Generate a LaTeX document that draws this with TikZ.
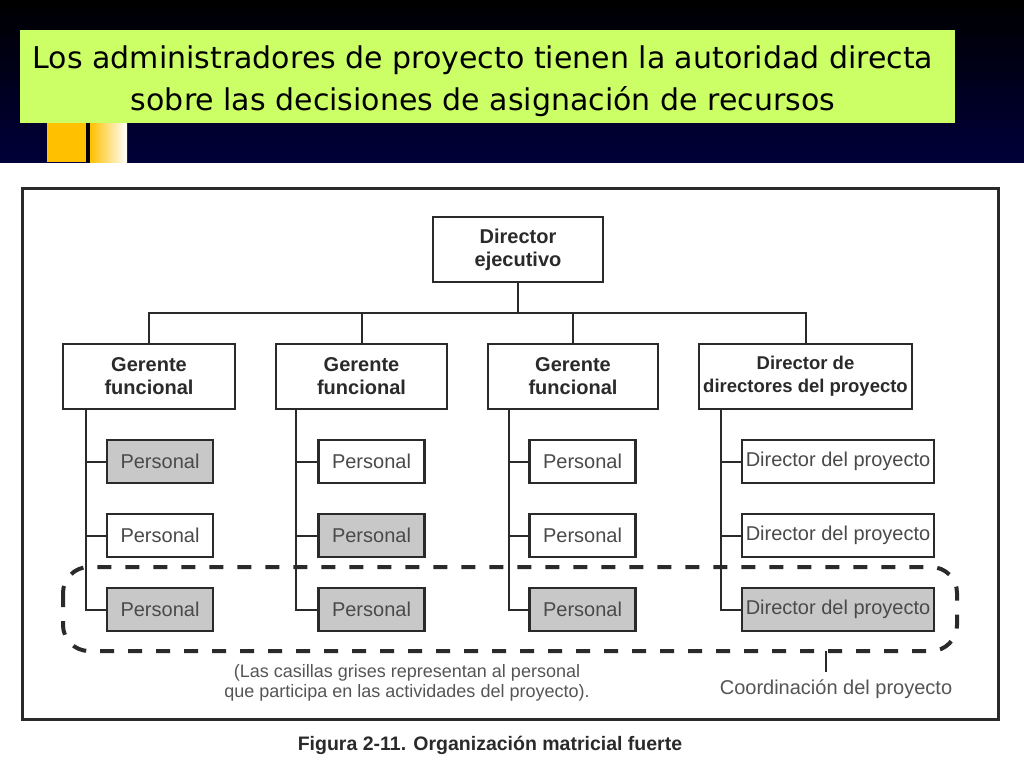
\documentclass[tikz,border=0pt]{standalone}
\usepackage{fontspec}
\setmainfont{Liberation Sans}
\newfontfamily\titlefont{DejaVu Sans}
\definecolor{navy}{HTML}{00003A}
\definecolor{lime}{HTML}{CCFF66}
\definecolor{amber}{HTML}{FFC000}
\definecolor{boxgray}{HTML}{C8C8C8}
\definecolor{ink}{HTML}{2A2A2A}
\begin{document}
\begin{tikzpicture}[x=1pt,y=-1pt,
		chief/.style={draw=ink,line width=2.5pt,fill=white,align=center,inner sep=0pt,minimum height=65pt,text=ink,font=\fontsize{20}{23}\selectfont\bfseries},
		staff/.style={draw=ink,line width=2.2pt,fill=white,inner sep=0pt,minimum width=106pt,minimum height=43pt,text=ink!85,font=\fontsize{20}{23}\selectfont},
		busy/.style={fill=boxgray},
		link/.style={draw=ink,line width=2pt}]
		\useasboundingbox (0,0) rectangle (1024,768);
		\fill[white] (0,0) rectangle (1024,768);
		% slide header
		\shade[top color=black,bottom color=navy] (0,0) rectangle (1024,162);
		\fill[amber] (47,123) rectangle (86,162);
		\fill[black] (86,123) rectangle (90,162);
		\shade[left color=amber,right color=white] (90,123) rectangle (127,162);
		\node[fill=lime,minimum width=935pt,minimum height=93pt,inner sep=0pt] (title) at (487.5,76.5) {};
		\node[align=center,inner sep=0pt,font=\titlefont\fontsize{30}{42}\selectfont] (titletext) at (483,81) {Los administradores de proyecto tienen la autoridad directa\\sobre las decisiones de asignación de recursos};
		% figure
		\draw[ink,line width=3pt] (22,188) rectangle (998,719);
		\node[chief,minimum width=170pt] (exec) at (518,249.5) {Director\\ejecutivo};
		\node[chief,minimum width=172pt] (g1) at (149,376.5) {Gerente\\funcional};
		\node[chief,minimum width=171pt] (g2) at (361.5,376.5) {Gerente\\funcional};
		\node[chief,minimum width=170pt] (g3) at (573,376.5) {Gerente\\funcional};
		\node[chief,minimum width=213pt,font=\fontsize{18.5}{23}\selectfont\bfseries] (g4) at (805.5,376.5) {Director de\\directores del proyecto};
		\node[staff,busy] (p11) at (160,461.5) {Personal};
		\node[staff] (p12) at (160,535.5) {Personal};
		\node[staff,busy] (p13) at (160,609.5) {Personal};
		\node[staff] (p21) at (371.5,461.5) {Personal};
		\node[staff,busy] (p22) at (371.5,535.5) {Personal};
		\node[staff,busy] (p23) at (371.5,609.5) {Personal};
		\node[staff] (p31) at (582.5,461.5) {Personal};
		\node[staff] (p32) at (582.5,535.5) {Personal};
		\node[staff,busy] (p33) at (582.5,609.5) {Personal};
		\node[staff,minimum width=192pt] (d1) at (838,461.5) {Director del proyecto};
		\node[staff,minimum width=192pt] (d2) at (838,535.5) {Director del proyecto};
		\node[staff,busy,minimum width=192pt] (d3) at (838,609.5) {Director del proyecto};
		% lines
		\coordinate (bus) at (518,313);
		\draw[link] (exec.south) -- (bus);
		\draw[link] (g1.north) -- (g1.north |- bus) -| (g4.north);
		\draw[link] (g2.north) -- (g2.north |- bus);
		\draw[link] (g3.north) -- (g3.north |- bus);
		\coordinate (s1) at ([xshift=24pt]g1.south west);
		\coordinate (s2) at ([xshift=21pt]g2.south west);
		\coordinate (s3) at ([xshift=22pt]g3.south west);
		\coordinate (s4) at ([xshift=23pt]g4.south west);
		\draw[link] (s1) |- (p13.west);
		\draw[link] (p11.west) -- (p11.west -| s1);
		\draw[link] (p12.west) -- (p12.west -| s1);
		\draw[link] (s2) |- (p23.west);
		\draw[link] (p21.west) -- (p21.west -| s2);
		\draw[link] (p22.west) -- (p22.west -| s2);
		\draw[link] (s3) |- (p33.west);
		\draw[link] (p31.west) -- (p31.west -| s3);
		\draw[link] (p32.west) -- (p32.west -| s3);
		\draw[link] (s4) |- (d3.west);
		\draw[link] (d1.west) -- (d1.west -| s4);
		\draw[link] (d2.west) -- (d2.west -| s4);
		% project coordination
		\draw[ink,line width=4pt,dash pattern=on 14pt off 14pt,rounded corners=26pt] (63,567) rectangle (957,651);
		\node[text=ink!80,align=center,font=\fontsize{18}{20}\selectfont] (note) at (407,683) {(Las casillas grises representan al personal\\que participa en las actividades del proyecto).};
		\node[text=ink!80,font=\fontsize{20}{23}\selectfont] (coord) at (836,689) {Coordinación del proyecto};
		\coordinate (tick) at (826,651);
		\coordinate (tickend) at (826,672);
		\draw[link] (tick) -- (tickend);
		\node[text=ink,font=\fontsize{19.5}{23}\selectfont\bfseries] (caption) at (490,745) {Figura 2-11. Organización matricial fuerte};
\end{tikzpicture}
\end{document}
